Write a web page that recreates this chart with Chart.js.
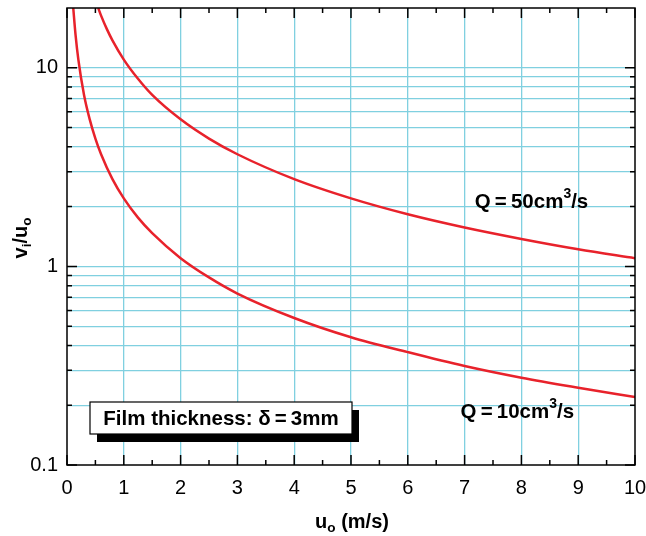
<!DOCTYPE html>
<html>
<head>
<meta charset="utf-8">
<script src="https://cdn.jsdelivr.net/npm/chart.js@4/dist/chart.umd.min.js"></script>
<style>
  html, body { margin: 0; padding: 0; background: #fff; }
  #wrap { width: 646px; height: 536px; }
</style>
</head>
<body>
<div id="wrap"><canvas id="chart"></canvas></div>
<script>
// values
const uQ10 = [0.11, 0.15, 0.2, 0.3, 0.4, 0.5, 0.6, 0.8, 1, 1.25, 1.5, 2, 2.5, 3, 4, 5, 6, 7, 8, 9, 10];
const vQ10 = [20, 14.7, 11, 7.3, 5.5, 4.4, 3.67, 2.75, 2.2, 1.76, 1.47, 1.1, 0.88, 0.73, 0.55, 0.44, 0.37, 0.315, 0.275, 0.245, 0.22];
const uQ50 = [0.55, 0.6, 0.7, 0.8, 1, 1.25, 1.5, 2, 2.5, 3, 4, 5, 6, 7, 8, 9, 10];
const vQ50 = [20, 18.3, 15.7, 13.75, 11, 8.8, 7.3, 5.5, 4.4, 3.67, 2.75, 2.2, 1.83, 1.57, 1.375, 1.22, 1.1];

const xTicks = [0, 1, 2, 3, 4, 5, 6, 7, 8, 9, 10];
const yLabelTicks = [0.1, 1, 10];
const yMinorTicks = [0.2, 0.3, 0.4, 0.5, 0.6, 0.7, 0.8, 0.9, 2, 3, 4, 5, 6, 7, 8, 9];
const yMax = 20;

const FONT = '"Liberation Sans", Arial, Helvetica, sans-serif';
const RED = '#e8222b';
const CYAN = '#80d0e0';

const toPoints = (xs, ys) => xs.map((x, i) => ({ x, y: ys[i] }));

// draws a run of text pieces, some as sub- or superscripts
function drawRich(ctx, parts, x, y, size) {
    let cx = x;
    parts.forEach(p => {
        const s = p.sub || p.sup ? size * 0.68 : size;
        ctx.font = `bold ${s}px ${FONT}`;
        const dy = p.sub ? size * 0.3 : p.sup ? -size * 0.38 : 0;
        ctx.fillText(p.t, cx, y + dy);
        cx += ctx.measureText(p.t).width;
    });
    return cx - x;
}
function richWidth(ctx, parts, size) {
    let w = 0;
    parts.forEach(p => {
        const s = p.sub || p.sup ? size * 0.68 : size;
        ctx.font = `bold ${s}px ${FONT}`;
        w += ctx.measureText(p.t).width;
    });
    return w;
}

const frame = {
    id: 'frame',
    afterDatasetsDraw(chart) {
        const { ctx, chartArea: a, scales: { x, y } } = chart;
        ctx.save();
        ctx.strokeStyle = '#000';
        ctx.lineWidth = 1.5;
        ctx.strokeRect(a.left, a.top, a.right - a.left, a.bottom - a.top);

        ctx.beginPath();
        // x ticks, bottom and top, majors and halves
        for (let v = 0; v <= 10; v += 0.5) {
            const px = x.getPixelForValue(v);
            const len = Number.isInteger(v) ? 10 : 5;
            ctx.moveTo(px, a.bottom); ctx.lineTo(px, a.bottom - len);
            ctx.moveTo(px, a.top); ctx.lineTo(px, a.top + len);
        }
        // y ticks, left and right
        yLabelTicks.concat(yMinorTicks).forEach(v => {
            const py = y.getPixelForValue(v);
            const len = yLabelTicks.includes(v) ? 10 : 5;
            ctx.moveTo(a.left, py); ctx.lineTo(a.left + len, py);
            ctx.moveTo(a.right, py); ctx.lineTo(a.right - len, py);
        });
        ctx.stroke();

        ctx.fillStyle = '#000';
        ctx.textBaseline = 'middle';

        // curve labels
        drawRich(ctx, [{ t: 'Q\u2009=\u200950cm' }, { t: '3', sup: true }, { t: '/s' }],
            x.getPixelForValue(7.18), y.getPixelForValue(2.1), 20.5);
        drawRich(ctx, [{ t: 'Q\u2009=\u200910cm' }, { t: '3', sup: true }, { t: '/s' }],
            x.getPixelForValue(6.93), y.getPixelForValue(0.184), 20.5);

        // film thickness box with drop shadow
        const bx = 90, by = 402, bw = 262, bh = 32;
        ctx.fillRect(bx + 7, by + 8, bw, bh);
        ctx.fillStyle = '#fff';
        ctx.fillRect(bx, by, bw, bh);
        ctx.lineWidth = 1.2;
        ctx.strokeRect(bx, by, bw, bh);
        ctx.fillStyle = '#000';
        ctx.font = `bold 20.5px ${FONT}`;
        ctx.textAlign = 'center';
        ctx.fillText('Film thickness: \u03b4\u2009=\u20093mm', bx + bw / 2, by + bh / 2 + 1);
        ctx.textAlign = 'left';

        // axis titles
        const xt = [{ t: 'u' }, { t: 'o', sub: true }, { t: ' (m/s)' }];
        const xw = richWidth(ctx, xt, 20);
        drawRich(ctx, xt, (a.left + a.right) / 2 - xw / 2 + 1, 522, 20);

        const yt = [{ t: 'v' }, { t: 'i', sub: true }, { t: '/u' }, { t: 'o', sub: true }];
        const yw = richWidth(ctx, yt, 20);
        ctx.translate(21, 238);
        ctx.rotate(-Math.PI / 2);
        drawRich(ctx, yt, -yw / 2, 0, 20);
        ctx.restore();
    }
};

new Chart(document.getElementById('chart'), {
    type: 'line',
    data: {
        datasets: [
            { label: 'Q=10', data: toPoints(uQ10, vQ10) },
            { label: 'Q=50', data: toPoints(uQ50, vQ50) }
        ]
    },
    options: {
        responsive: true,
        maintainAspectRatio: false,
        animation: false,
        events: [],
        layout: { padding: { left: 0, right: 11, top: 8, bottom: 0 } },
        elements: {
            line: { borderColor: RED, borderWidth: 2.5, cubicInterpolationMode: 'monotone', fill: false },
            point: { radius: 0 }
        },
        plugins: { legend: { display: false }, tooltip: { enabled: false } },
        scales: {
            x: {
                type: 'linear',
                min: 0, max: 10,
                afterBuildTicks: s => { s.ticks = xTicks.map(v => ({ value: v })); },
                afterFit: s => { s.height = 71; s.paddingLeft = 0; s.paddingRight = 0; },
                grid: {
                    drawTicks: false,
                    lineWidth: 1.3,
                    color: c => (c.tick && c.tick.value > 0 && c.tick.value < 10) ? CYAN : 'rgba(0,0,0,0)'
                },
                border: { display: false },
                ticks: { color: '#000', padding: 11, font: { family: FONT, size: 20 } }
            },
            y: {
                type: 'logarithmic',
                min: 0.1, max: yMax,
                afterBuildTicks: s => {
                    s.ticks = yLabelTicks.concat(yMinorTicks).sort((a, b) => a - b).map(v => ({ value: v }));
                },
                afterFit: s => { s.width = 67; s.paddingTop = 0; s.paddingBottom = 0; },
                grid: {
                    drawTicks: false,
                    lineWidth: 1.3,
                    color: c => (c.tick && c.tick.value > 0.1) ? CYAN : 'rgba(0,0,0,0)'
                },
                border: { display: false },
                ticks: {
                    color: '#000', padding: 9, autoSkip: false,
                    font: { family: FONT, size: 20 },
                    callback: v => yLabelTicks.includes(v) ? String(v) : ''
                }
            }
        }
    },
    plugins: [frame]
});
</script>
</body>
</html>
